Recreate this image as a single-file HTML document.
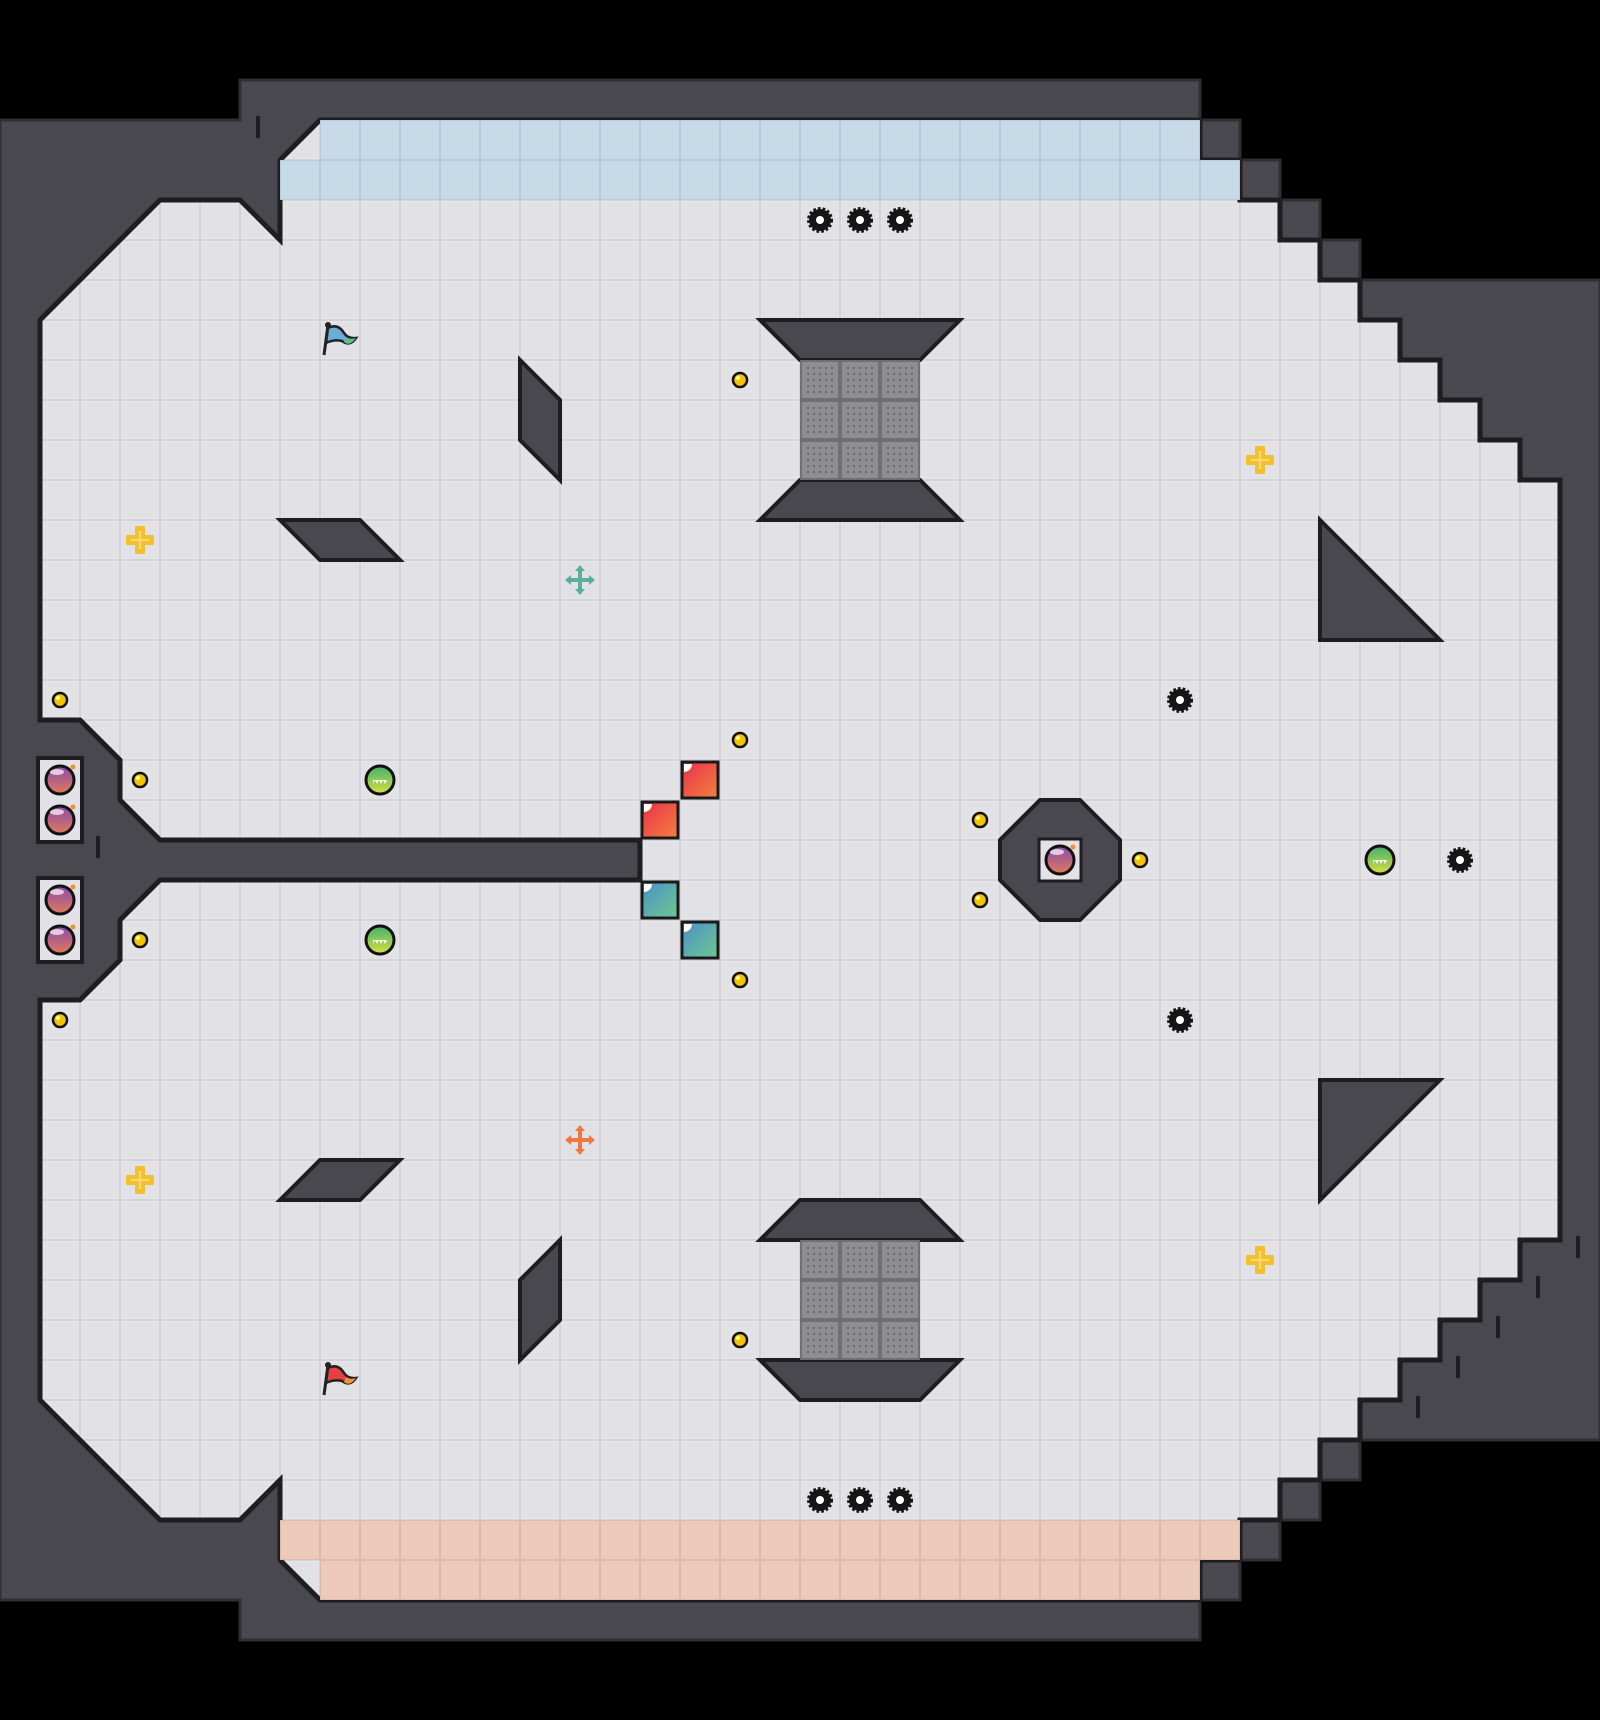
<!DOCTYPE html>
<html><head><meta charset="utf-8"><style>html,body{margin:0;padding:0;background:#000}svg{display:block}</style></head>
<body>
<svg width="1600" height="1720" viewBox="0 0 1600 1720" xmlns="http://www.w3.org/2000/svg">
<defs>
<pattern id="g" x="0" y="0" width="40" height="40" patternUnits="userSpaceOnUse">
<rect width="40" height="40" fill="#d2d2d8"/><rect x="1" y="1" width="38" height="38" fill="#e5e5e9"/><rect x="2" y="2" width="36" height="36" fill="#e2e2e6"/>
</pattern>
<pattern id="gb" x="0" y="0" width="40" height="40" patternUnits="userSpaceOnUse">
<rect width="40" height="40" fill="#b4cad8"/><rect x="1" y="1" width="38" height="38" fill="#c6dae7"/>
</pattern>
<pattern id="gr" x="0" y="0" width="40" height="40" patternUnits="userSpaceOnUse">
<rect width="40" height="40" fill="#dbb8a8"/><rect x="1" y="1" width="38" height="38" fill="#ecc9b9"/>
</pattern>
<pattern id="gt" x="0" y="0" width="40" height="40" patternUnits="userSpaceOnUse">
<rect width="40" height="40" fill="#6f6f74"/><rect x="2" y="2" width="36" height="36" fill="#8e8e92"/>
<g fill="#6a6a6e"><circle cx="8" cy="8" r="1.2"/><circle cx="14" cy="8" r="1.2"/><circle cx="20" cy="8" r="1.2"/><circle cx="26" cy="8" r="1.2"/><circle cx="32" cy="8" r="1.2"/>
<circle cx="8" cy="14" r="1.2"/><circle cx="14" cy="14" r="1.2"/><circle cx="20" cy="14" r="1.2"/><circle cx="26" cy="14" r="1.2"/><circle cx="32" cy="14" r="1.2"/>
<circle cx="8" cy="20" r="1.2"/><circle cx="14" cy="20" r="1.2"/><circle cx="20" cy="20" r="1.2"/><circle cx="26" cy="20" r="1.2"/><circle cx="32" cy="20" r="1.2"/>
<circle cx="8" cy="26" r="1.2"/><circle cx="14" cy="26" r="1.2"/><circle cx="20" cy="26" r="1.2"/><circle cx="26" cy="26" r="1.2"/><circle cx="32" cy="26" r="1.2"/>
<circle cx="8" cy="32" r="1.2"/><circle cx="14" cy="32" r="1.2"/><circle cx="20" cy="32" r="1.2"/><circle cx="26" cy="32" r="1.2"/><circle cx="32" cy="32" r="1.2"/></g>
</pattern>
<linearGradient id="rd" x1="0" y1="0" x2="1" y2="1"><stop offset="0" stop-color="#e8304a"/><stop offset="1" stop-color="#f58040"/></linearGradient>
<linearGradient id="bl" x1="0" y1="0" x2="1" y2="1"><stop offset="0" stop-color="#4a90c8"/><stop offset="1" stop-color="#70c890"/></linearGradient>
<linearGradient id="bm" x1="0" y1="0" x2="0" y2="1"><stop offset="0" stop-color="#8c4ab0"/><stop offset="1" stop-color="#e07a58"/></linearGradient>
<linearGradient id="gn" x1="0" y1="0" x2="0" y2="1"><stop offset="0" stop-color="#40b070"/><stop offset="1" stop-color="#d8e040"/></linearGradient>
<g id="mine"><circle r="11" fill="#151515" stroke="#151515" stroke-width="4" stroke-dasharray="2.5 2"/><circle r="4" fill="#fff"/></g>
<g id="dot"><circle r="7" fill="#f5c400" stroke="#111" stroke-width="2.5"/><circle cx="-2" cy="-2" r="2" fill="#fff8a0"/></g>
<g id="bomb"><circle r="14" fill="url(#bm)" stroke="#111" stroke-width="3"/><ellipse cx="-3" cy="-8" rx="7" ry="3" fill="#fff" opacity=".7"/><circle cx="13" cy="-13" r="2.5" fill="#f59030"/></g>
<g id="ball"><circle r="14" fill="url(#gn)" stroke="#111" stroke-width="3"/><path d="M-7,0 h14 l-2,4 l-2,-4 l-2,4 l-2,-4 l-2,4 l-2,-4 l-2,4z" fill="#fff"/></g>
<g id="plus"><path d="M-5,-14 h10 v9 h9 v10 h-9 v9 h-10 v-9 h-9 v-10 h9z" fill="#f5c030"/><path d="M-1,-9 h2 v18 h-2z M-9,-1 h18 v2 h-18z" fill="#fad878"/></g>
<g id="arr"><path d="M0,-15 l5,6 h-3 v7 h7 v-3 l6,5 l-6,5 v-3 h-7 v7 h3 l-5,6 l-5,-6 h3 v-7 h-7 v3 l-6,-5 l6,-5 v3 h7 v-7 h-3z"/></g>
</defs>
<rect width="1600" height="1720" fill="#000"/>
<path d="M240,80 H1200 V120 H1240 V160 H1280 V200 H1320 V240 H1360 V280 H1600 V1440 H1360 V1480 H1320 V1520 H1280 V1560 H1240 V1600 H1200 V1640 H240 V1600 H0 V120 H240 Z" fill="#48484e" stroke="#2e2e33" stroke-width="3"/>
<path id="fl" d="M320,120 H1200 V160 H1240 V200 H1280 V240 H1320 V280 H1360 V320 H1400 V360 H1440 V400 H1480 V440 H1520 V480 H1560 V1240 H1520 V1280 H1480 V1320 H1440 V1360 H1400 V1400 H1360 V1440 H1320 V1480 H1280 V1520 H1240 V1560 H1200 V1600 H320 L280,1560 V1480 L240,1520 H160 L40,1400 V1000 H80 L120,960 V920 L160,880 H640 V840 H160 L120,800 V760 L80,720 H40 V320 L160,200 H240 L280,240 V160 Z" fill="url(#g)" stroke="#1e1e22" stroke-width="5"/>
<path d="M320,120 H1200 V160 H1240 V200 H280 V160 H320Z" fill="url(#gb)"/>
<path d="M280,1520 H1240 V1560 H1200 V1600 H320 V1560 H280Z" fill="url(#gr)"/>
<rect x="38" y="758" width="44" height="84" fill="#e2e2e6" stroke="#1e1e22" stroke-width="4"/>
<rect x="38" y="878" width="44" height="84" fill="#e2e2e6" stroke="#1e1e22" stroke-width="4"/>
<g fill="#48484e" stroke="#1e1e22" stroke-width="4" stroke-linejoin="miter">
<path d="M760,320 H960 L920,360 H800Z"/><path d="M800,480 H920 L960,520 H760Z"/>
<path d="M800,1200 H920 L960,1240 H760Z"/><path d="M760,1360 H960 L920,1400 H800Z" transform="translate(0,0)"/>
<path d="M520,360 L560,400 V480 L520,440Z"/><path d="M560,1240 V1320 L520,1360 V1280Z"/>
<path d="M280,520 H360 L400,560 H320Z"/><path d="M320,1160 H400 L360,1200 H280Z"/>
<path d="M1320,520 L1440,640 H1320Z"/><path d="M1320,1080 H1440 L1320,1200Z"/>
<path d="M1040,800 H1080 L1120,840 V880 L1080,920 H1040 L1000,880 V840Z"/>
</g>
<rect x="800" y="360" width="120" height="120" fill="url(#gt)"/>
<rect x="800" y="1240" width="120" height="120" fill="url(#gt)"/>
<rect x="1039" y="839" width="42" height="42" fill="#e2e2e6" stroke="#1e1e22" stroke-width="3"/>
<rect x="682" y="762" width="36" height="36" fill="url(#rd)" stroke="#1a1a1a" stroke-width="3"/>
<rect x="642" y="802" width="36" height="36" fill="url(#rd)" stroke="#1a1a1a" stroke-width="3"/>
<rect x="642" y="882" width="36" height="36" fill="url(#bl)" stroke="#1a1a1a" stroke-width="3"/>
<rect x="682" y="922" width="36" height="36" fill="url(#bl)" stroke="#1a1a1a" stroke-width="3"/>
<g fill="#fff"><path d="M684,764 h8 a8 8 0 0 1 -8 8z"/><path d="M644,804 h8 a8 8 0 0 1 -8 8z"/><path d="M644,884 h8 a8 8 0 0 1 -8 8z"/><path d="M684,924 h8 a8 8 0 0 1 -8 8z"/></g>
<use href="#mine" x="820" y="220"/><use href="#mine" x="860" y="220"/><use href="#mine" x="900" y="220"/>
<use href="#mine" x="820" y="1500"/><use href="#mine" x="860" y="1500"/><use href="#mine" x="900" y="1500"/>
<use href="#mine" x="1180" y="700"/><use href="#mine" x="1180" y="1020"/><use href="#mine" x="1460" y="860"/>
<use href="#dot" x="740" y="380"/><use href="#dot" x="60" y="700"/><use href="#dot" x="140" y="780"/>
<use href="#dot" x="740" y="740"/><use href="#dot" x="980" y="820"/><use href="#dot" x="1140" y="860"/>
<use href="#dot" x="980" y="900"/><use href="#dot" x="140" y="940"/><use href="#dot" x="740" y="980"/>
<use href="#dot" x="60" y="1020"/><use href="#dot" x="740" y="1340"/>
<use href="#plus" x="1260" y="460"/><use href="#plus" x="140" y="540"/><use href="#plus" x="140" y="1180"/><use href="#plus" x="1260" y="1260"/>
<use href="#arr" x="580" y="580" fill="#5ab0a0"/><use href="#arr" x="580" y="1140" fill="#f07840"/>
<use href="#ball" x="380" y="780"/><use href="#ball" x="380" y="940"/><use href="#ball" x="1380" y="860"/>
<use href="#bomb" x="60" y="780"/><use href="#bomb" x="60" y="820"/><use href="#bomb" x="60" y="900"/><use href="#bomb" x="60" y="940"/><use href="#bomb" x="1060" y="860"/>
<g transform="translate(322,325)"><path d="M2,30 L6,0" stroke="#222" stroke-width="3"/><circle cx="6" cy="0" r="3" fill="#222"/><path d="M6,3 Q16,-2 22,8 Q26,14 34,13 Q28,22 20,16 Q12,14 4,18Z" fill="#6aaed8" stroke="#222" stroke-width="2.5"/><path d="M24,12 Q28,15 34,13 Q28,22 22,17Z" fill="#5cc090"/></g>
<g transform="translate(322,1365)"><path d="M2,30 L6,0" stroke="#222" stroke-width="3"/><circle cx="6" cy="0" r="3" fill="#222"/><path d="M6,3 Q16,-2 22,8 Q26,14 34,13 Q28,22 20,16 Q12,14 4,18Z" fill="#e84040" stroke="#222" stroke-width="2.5"/><path d="M24,12 Q28,15 34,13 Q28,22 22,17Z" fill="#f59040"/></g>
<g fill="#1e1e22"><rect x="256" y="116" width="4" height="22"/><rect x="96" y="836" width="4" height="22"/><rect x="1576" y="1236" width="4" height="22"/><rect x="1536" y="1276" width="4" height="22"/><rect x="1496" y="1316" width="4" height="22"/><rect x="1456" y="1356" width="4" height="22"/><rect x="1416" y="1396" width="4" height="22"/></g>
</svg>
</body></html>
